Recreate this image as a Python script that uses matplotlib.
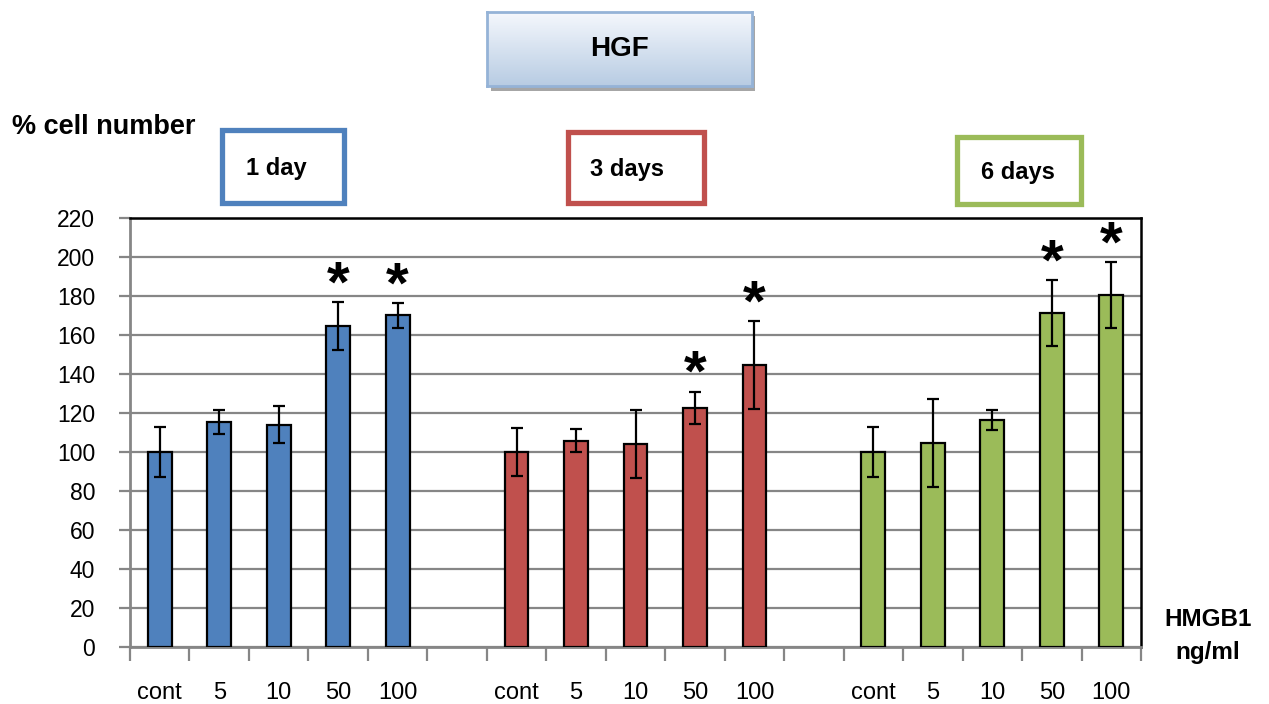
import numpy as np
import matplotlib
matplotlib.use("Agg")
import matplotlib.pyplot as plt
from matplotlib.patches import Rectangle

plt.rcParams['font.family'] = ['Liberation Sans', 'DejaVu Sans']

# doses of HMGB1 (ng/ml), same for each time point
doses = ["cont", "5", "10", "50", "100"]
groups = ["1 day", "3 days", "6 days"]

# % cell number
day1 = [100, 115.5, 114, 164.6, 170]
day3 = [100, 105.8, 104, 122.7, 144.6]
day6 = [100, 104.8, 116.4, 171.3, 180.5]

err1 = [13, 6.2, 9.4, 12.4, 6.4]
err3 = [12.5, 6, 17.5, 8.3, 22.4]
err6 = [12.6, 22.6, 4.9, 17, 16.7]

# which bars carry a significance star
sig1 = [False, False, False, True, True]
sig3 = [False, False, False, True, True]
sig6 = [False, False, False, True, True]

colors = ["#4F81BD", "#C0504D", "#9BBB59"]

W, H = 1269, 704
fig = plt.figure(figsize=(W / 100, H / 100), dpi=100)


def fx(px):
    return px / W


def fy(py):
    return 1 - py / H


ax = fig.add_axes([fx(130), fy(647), fx(1141) - fx(130), fy(218) - fy(647)])

values = [day1, day3, day6]
errors = [err1, err3, err6]
sigs = [sig1, sig3, sig6]

centers = []
labels = []
for g in range(3):
    x = np.arange(len(doses)) + g * 6 + 0.5
    ax.bar(x, values[g], width=0.4, color=colors[g], edgecolor="black",
           linewidth=1.6, zorder=3)
    ax.errorbar(x, values[g], yerr=errors[g], fmt="none", ecolor="black",
                elinewidth=1.6, capsize=4, capthick=1.6, zorder=4)
    for xi, v, e, s in zip(x, values[g], errors[g], sigs[g]):
        if s:
            ax.text(xi, v + e + 8, "*", ha="center", va="center",
                    fontsize=42, fontweight="bold", zorder=5)
    centers.extend(x)
    labels.extend(doses)

ax.set_xlim(0, 17)
ax.set_ylim(0, 220)
ax.set_yticks(np.arange(0, 221, 20))
ax.yaxis.grid(True, color="#868686", linewidth=1.6, zorder=0)
ax.set_axisbelow(True)

ax.set_xticks(np.arange(0, 18), minor=False)
ax.set_xticklabels([])
ax.set_xticks(centers, minor=True)
ax.set_xticklabels(labels, minor=True)
ax.tick_params(axis="x", which="major", length=10, width=1.6, color="#868686")
ax.tick_params(axis="x", which="minor", length=0, pad=25, labelsize=17)
ax.tick_params(axis="y", length=8, width=1.6, color="#868686", pad=17,
               labelsize=16.5)

for side in ["left", "bottom"]:
    ax.spines[side].set_color("#868686")
    ax.spines[side].set_linewidth(2)
for side in ["top", "right"]:
    ax.spines[side].set_color("black")
    ax.spines[side].set_linewidth(1.8)

fig.text(fx(12), fy(127), "% cell number", fontsize=19.5, fontweight="bold",
         ha="left", va="center")
fig.text(fx(1208), fy(620), "HMGB1", fontsize=17.5, fontweight="bold",
         ha="center", va="center")
fig.text(fx(1208), fy(652), "ng/ml", fontsize=17.5, fontweight="bold",
         ha="center", va="center")

# HGF title box with a soft blue gradient and a shadow
fig.patches.append(Rectangle((fx(491), fy(91)), fx(755) - fx(491),
                             fy(16) - fy(91), transform=fig.transFigure,
                             facecolor="#A6A6A6", edgecolor="none", zorder=0.5))
hax = fig.add_axes([fx(487), fy(86), fx(752) - fx(487), fy(12) - fy(86)])
hax.set_zorder(3)
grad = np.linspace(0, 1, 100).reshape(-1, 1)
top = np.array([0.96, 0.97, 0.99])
bot = np.array([0.72, 0.80, 0.89])
img = top + (bot - top) * grad[:, :, None]
hax.imshow(img, aspect="auto", extent=[0, 1, 0, 1], origin="upper")
hax.set_xticks([])
hax.set_yticks([])
for s in hax.spines.values():
    s.set_color("#95B3D7")
    s.set_linewidth(2)
hax.text(0.5, 0.5, "HGF", transform=hax.transAxes, ha="center", va="center",
         fontsize=20, fontweight="bold")

# time point boxes
boxes = [(222, 130, 344, 203), (568, 132, 704, 203), (957, 137, 1081, 204)]
text_x = [246, 590, 981]
for (x0, y0, x1, y1), c, name, tx in zip(boxes, colors, groups, text_x):
    fig.patches.append(Rectangle((fx(x0), fy(y1)), fx(x1) - fx(x0),
                                 fy(y0) - fy(y1), transform=fig.transFigure,
                                 facecolor="white", edgecolor=c,
                                 linewidth=3.8, zorder=2))
    fig.text(fx(tx), fy((y0 + y1) / 2 + 2), name, fontsize=17,
             fontweight="bold", ha="left", va="center", zorder=3)

fig.savefig("out.png", dpi=100)
